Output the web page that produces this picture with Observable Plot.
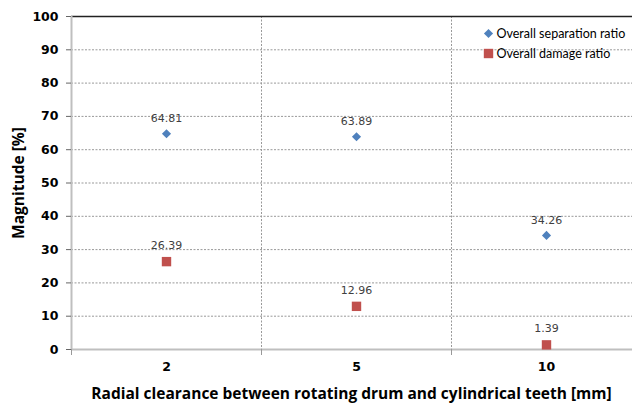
<!DOCTYPE html>
<html><head><meta charset="utf-8">
<script src="https://cdn.jsdelivr.net/npm/d3@7"></script>
<script src="https://cdn.jsdelivr.net/npm/@observablehq/plot@0.6"></script>
<style>body{margin:0;overflow:hidden;background:#fff} svg{max-width:none !important}</style>
</head><body><div id="chart"></div>
<script>
const clearances = ["2", "5", "10"];
const separation = [64.81, 63.89, 34.26];
const damage = [26.39, 12.96, 1.39];
const yTicks = [0, 10, 20, 30, 40, 50, 60, 70, 80, 90, 100];
const seriesNames = ["Overall separation ratio", "Overall damage ratio"];
const seriesColors = ["#4F81BD", "#C0504D"];
const xTitle = "Radial clearance between rotating drum and cylindrical teeth [mm]";
const yTitle = "Magnitude [%]";

const sepData = clearances.map((c, i) => ({pos: i + 0.5, v: separation[i]}));
const dmgData = clearances.map((c, i) => ({pos: i + 0.5, v: damage[i]}));
const boundaries = d3.range(clearances.length + 1);
const centers = clearances.map((c, i) => i + 0.5);
const F = "DejaVu Sans";

const chart = Plot.plot({
  width: 641, height: 404,
  marginLeft: 71, marginRight: 0, marginTop: 16, marginBottom: 55,
  style: {fontFamily: F, background: "#fff", maxWidth: "none"},
  x: {type: "linear", domain: [0, clearances.length]},
  y: {domain: [0, 100]},
  marks: [
    Plot.gridY({ticks: yTicks.filter(t => t > 0 && t < 100), stroke: "#999", strokeOpacity: 1, strokeDasharray: "2,1.5", strokeWidth: 1}),
    Plot.gridX({ticks: boundaries.slice(1, -1), stroke: "#999", strokeOpacity: 1, strokeDasharray: "2,1.5", strokeWidth: 1}),
    Plot.ruleY([100], {stroke: "#222", strokeWidth: 1.5}),
    Plot.ruleY([0], {stroke: "#bfbfbf", strokeWidth: 2}),
    Plot.ruleX([0], {stroke: "#bfbfbf", strokeWidth: 2}),
    Plot.axisY({ticks: yTicks, tickSize: 5, tickPadding: 8, fontWeight: "bold", fontSize: 12.5, label: null, stroke: "#666", color: "#000"}),
    Plot.axisX({ticks: boundaries, tickSize: 6, tickFormat: () => "", label: null, stroke: "#999"}),
    Plot.axisX({ticks: centers, tickSize: 0, tickPadding: 13, tickFormat: d => clearances[Math.floor(d)], fontWeight: "bold", fontSize: 12.5, label: null, color: "#000"}),
    Plot.text([yTitle], {frameAnchor: "left", dx: -52, rotate: -90, textAnchor: "middle", lineAnchor: "middle", fontWeight: "bold", fontSize: 15.5, fontFamily: "Open Sans", fill: "#000"}),
    Plot.text([xTitle], {frameAnchor: "bottom", dx: -5, dy: 49, fontWeight: "bold", fontSize: 15.5, fontFamily: "Open Sans", fill: "#000"}),
    Plot.dot(sepData, {x: "pos", y: "v", symbol: "diamond2", r: 4.1, fill: seriesColors[0], stroke: "none"}),
    Plot.dot(dmgData, {x: "pos", y: "v", symbol: "square", r: 5.3, fill: seriesColors[1], stroke: "none"}),
    Plot.text(sepData, {x: "pos", y: "v", text: d => d.v.toFixed(2), dy: -15, fontSize: 11, fill: "#404040"}),
    Plot.text(dmgData, {x: "pos", y: "v", text: d => d.v.toFixed(2), dy: -16, fontSize: 11, fill: "#404040"}),
    Plot.dot([seriesNames[0]], {frameAnchor: "top-left", dx: 417, dy: 17, symbol: "diamond2", r: 4.1, fill: seriesColors[0], stroke: "none"}),
    Plot.dot([seriesNames[1]], {frameAnchor: "top-left", dx: 417, dy: 37, symbol: "square", r: 5.3, fill: seriesColors[1], stroke: "none"}),
    Plot.text([seriesNames[0]], {frameAnchor: "top-left", dx: 425, dy: 17, textAnchor: "start", lineAnchor: "middle", fontSize: 12.5, fontFamily: "Lato", fill: "#000"}),
    Plot.text([seriesNames[1]], {frameAnchor: "top-left", dx: 425, dy: 37, textAnchor: "start", lineAnchor: "middle", fontSize: 12.5, fontFamily: "Lato", fill: "#000"})
  ]
});
document.getElementById("chart").append(chart);
</script>
</body></html>
